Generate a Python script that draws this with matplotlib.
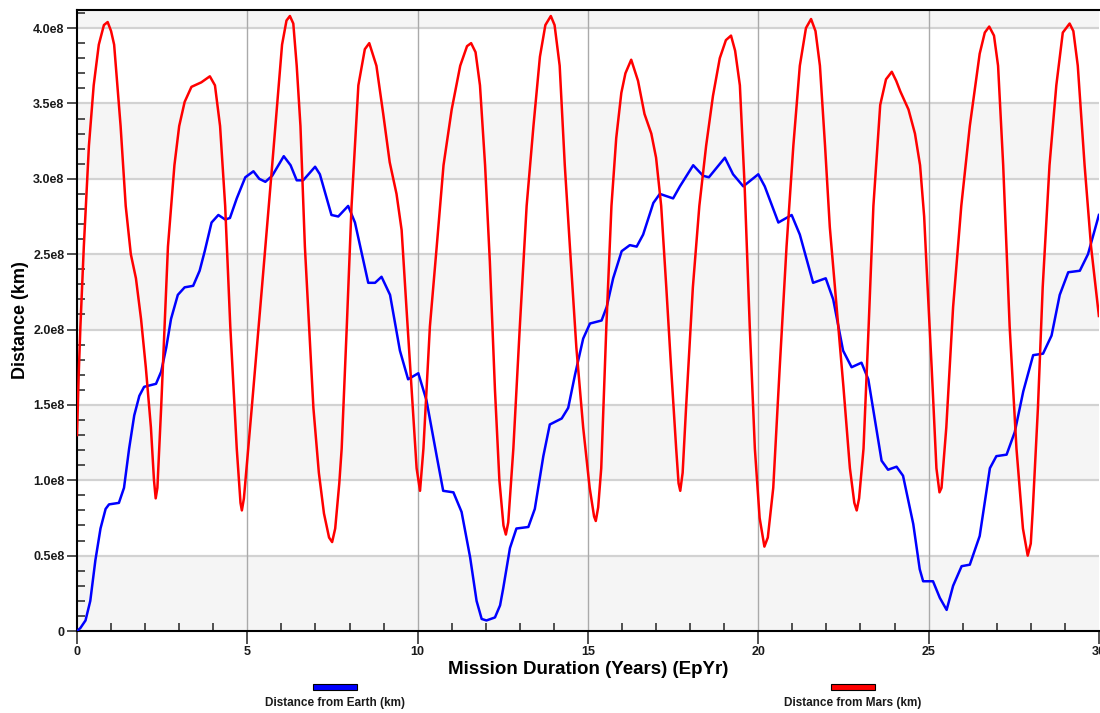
import matplotlib
matplotlib.use("Agg")
import matplotlib.pyplot as plt
import numpy as np
from matplotlib.ticker import MultipleLocator, FuncFormatter
from matplotlib.patches import Rectangle

plt.rcParams['font.family'] = ['Liberation Sans', 'DejaVu Sans']
plt.rcParams['font.weight'] = 'bold'

# mission time (years) and distance (units of 1e8 km)
earth_t = [0, 0.1, 0.25, 0.39, 0.54, 0.69, 0.84, 0.94, 1.23, 1.38, 1.53, 1.68, 1.83, 1.97,
           2.32, 2.47, 2.62, 2.76, 2.96, 3.16, 3.41, 3.60, 3.75, 3.95, 4.15, 4.35, 4.49, 4.69,
           4.94, 5.18, 5.35, 5.53, 5.73, 6.07, 6.27, 6.45, 6.64, 6.99, 7.13, 7.47, 7.67, 7.96,
           8.16, 8.55, 8.75, 8.94, 9.19, 9.48, 9.72, 10.02, 10.26, 10.56, 10.75, 11.05, 11.29,
           11.54, 11.73, 11.88, 12.02, 12.27, 12.42, 12.51, 12.71, 12.90, 13.25, 13.44, 13.69,
           13.88, 14.23, 14.42, 14.62, 14.86, 15.06, 15.40, 15.55, 15.74, 15.99, 16.23, 16.43,
           16.62, 16.92, 17.11, 17.50, 17.70, 18.09, 18.38, 18.55, 19.02, 19.26, 19.56, 20.00,
           20.19, 20.59, 20.98, 21.22, 21.61, 21.98, 22.20, 22.49, 22.74, 23.03, 23.23, 23.62,
           23.81, 24.06, 24.25, 24.55, 24.74, 24.84, 25.13, 25.33, 25.53, 25.72, 25.97, 26.21,
           26.50, 26.80, 26.99, 27.29, 27.53, 27.78, 28.07, 28.36, 28.61, 28.85, 29.10, 29.44,
           29.68, 30.00]
earth_d = [0, 0.02, 0.07, 0.2, 0.47, 0.68, 0.81, 0.84, 0.85, 0.95, 1.21, 1.43, 1.56, 1.62,
           1.64, 1.72, 1.88, 2.07, 2.23, 2.28, 2.29, 2.39, 2.52, 2.71, 2.76, 2.73, 2.74, 2.87,
           3.01, 3.05, 3.00, 2.98, 3.02, 3.15, 3.09, 2.99, 2.99, 3.08, 3.03, 2.76, 2.75, 2.82,
           2.71, 2.31, 2.31, 2.35, 2.23, 1.86, 1.67, 1.71, 1.53, 1.16, 0.93, 0.92, 0.79,
           0.49, 0.20, 0.08, 0.07, 0.09, 0.17, 0.28, 0.55, 0.68, 0.69, 0.81, 1.16,
           1.37, 1.41, 1.48, 1.70, 1.94, 2.04, 2.06, 2.15, 2.34, 2.52, 2.56, 2.55,
           2.63, 2.84, 2.90, 2.87, 2.95, 3.09, 3.02, 3.01, 3.14, 3.03, 2.95, 3.03,
           2.95, 2.71, 2.76, 2.63, 2.31, 2.34, 2.20, 1.86, 1.75, 1.78, 1.67, 1.13,
           1.07, 1.09, 1.03, 0.71, 0.41, 0.33, 0.33, 0.22, 0.14, 0.30, 0.43, 0.44,
           0.63, 1.08, 1.16, 1.17, 1.32, 1.59, 1.83, 1.84, 1.96, 2.23, 2.38, 2.39,
           2.50, 2.76]

mars_t = [0.0, 0.05, 0.10, 0.20, 0.35, 0.49, 0.64, 0.79, 0.90, 1.00, 1.09, 1.28, 1.43, 1.58,
          1.73, 1.88, 2.02, 2.17, 2.26, 2.31, 2.36, 2.47, 2.67, 2.86, 3.00, 3.16, 3.36, 3.65,
          3.90, 4.05, 4.20, 4.35, 4.50, 4.69, 4.80, 4.84, 4.90, 5.13, 5.43, 5.73, 6.02, 6.15,
          6.25, 6.35, 6.45, 6.56, 6.69, 6.82, 6.94, 7.10, 7.25, 7.40, 7.49, 7.58, 7.70, 7.77,
          7.92, 8.06, 8.26, 8.45, 8.58, 8.79, 8.99, 9.18, 9.38, 9.53, 9.67, 9.82, 9.97, 10.07,
          10.17, 10.36, 10.56, 10.76, 11.00, 11.25, 11.45, 11.57, 11.70, 11.83, 11.98, 12.12,
          12.27, 12.40, 12.52, 12.59, 12.66, 12.81, 13.00, 13.20, 13.40, 13.59, 13.75, 13.91,
          14.02, 14.17, 14.32, 14.47, 14.66, 14.86, 15.05, 15.18, 15.23, 15.30, 15.39, 15.54,
          15.69, 15.83, 15.98, 16.10, 16.27, 16.47, 16.66, 16.86, 17.00, 17.15, 17.30, 17.44,
          17.59, 17.66, 17.71, 17.78, 17.88, 18.08, 18.27, 18.47, 18.67, 18.87, 19.05, 19.20,
          19.32, 19.46, 19.60, 19.75, 19.90, 20.04, 20.18, 20.28, 20.44, 20.63, 20.83, 21.03,
          21.22, 21.40, 21.55, 21.68, 21.81, 21.96, 22.10, 22.30, 22.50, 22.69, 22.82, 22.89,
          22.96, 23.09, 23.24, 23.38, 23.58, 23.75, 23.92, 24.05, 24.17, 24.41, 24.60, 24.75,
          24.87, 24.94, 25.09, 25.23, 25.32, 25.38, 25.52, 25.72, 25.96, 26.21, 26.50, 26.65,
          26.78, 26.92, 27.04, 27.19, 27.38, 27.58, 27.77, 27.91, 28.00, 28.06, 28.21, 28.35,
          28.55, 28.75, 28.94, 29.14, 29.25, 29.38, 29.58, 29.77, 30.00]
mars_d = [1.30, 1.70, 2.02, 2.55, 3.22, 3.62, 3.89, 4.02, 4.04, 3.98, 3.89, 3.35, 2.82, 2.50,
          2.34, 2.07, 1.75, 1.35, 1.00, 0.88, 0.95, 1.48, 2.55, 3.09, 3.35, 3.51, 3.61, 3.64,
          3.68, 3.62, 3.35, 2.82, 2.02, 1.21, 0.85, 0.80, 0.88, 1.48, 2.28, 3.09, 3.89, 4.05,
          4.08, 4.03, 3.75, 3.35, 2.55, 2.00, 1.48, 1.05, 0.78, 0.62, 0.59, 0.68, 0.98, 1.21,
          2.02, 2.82, 3.62, 3.86, 3.90, 3.75, 3.43, 3.11, 2.90, 2.66, 2.15, 1.62, 1.08, 0.93,
          1.21, 2.02, 2.55, 3.09, 3.46, 3.75, 3.88, 3.90, 3.84, 3.62, 3.09, 2.45,
          1.60, 1.00, 0.70, 0.64, 0.72, 1.21, 2.02, 2.82, 3.35, 3.81, 4.02, 4.08,
          4.02, 3.75, 3.09, 2.55, 1.88, 1.35, 0.95, 0.76, 0.73, 0.82, 1.08, 2.02,
          2.82, 3.27, 3.57, 3.70, 3.79, 3.65, 3.43, 3.30, 3.14, 2.82, 2.28, 1.75,
          1.21, 0.98, 0.93, 1.05, 1.48, 2.28, 2.82, 3.22, 3.55, 3.80, 3.92, 3.95,
          3.85, 3.62, 2.95, 2.02, 1.21, 0.75, 0.56, 0.62, 0.95, 1.75, 2.55, 3.22,
          3.75, 4.00, 4.06, 3.98, 3.75, 3.22, 2.68, 2.15, 1.62, 1.08, 0.85, 0.80,
          0.88, 1.21, 2.02, 2.82, 3.49, 3.66, 3.71, 3.65, 3.58, 3.46, 3.30, 3.09,
          2.75, 2.42, 1.75, 1.08, 0.92, 0.95, 1.35, 2.15, 2.82, 3.35, 3.83, 3.97,
          4.01, 3.95, 3.75, 3.09, 2.02, 1.21, 0.68, 0.50, 0.58, 0.81, 1.48, 2.28,
          3.09, 3.62, 3.97, 4.03, 3.98, 3.75, 3.09, 2.55, 2.09]

scale = 1e8
earth_km = np.array(earth_d) * scale
mars_km = np.array(mars_d) * scale

fig = plt.figure(figsize=(11, 7.13), dpi=100)
ax = fig.add_axes([0.07, 0.115, 0.929, 0.871])

ymax = 4.12e8
ax.set_xlim(0, 30)
ax.set_ylim(0, ymax)

# alternating background bands
for lo in np.arange(0, 4.5e8, 1e8):
    ax.axhspan(lo, min(lo + 0.5e8, ymax), color='#f5f5f5', lw=0, zorder=0)

for v in np.arange(0.5e8, 4.01e8, 0.5e8):
    ax.axhline(v, color='#d2d2d2', lw=1.6, zorder=1)
for v in range(5, 30, 5):
    ax.axvline(v, color='#aaaaaa', lw=1.0, zorder=1)

ax.plot(earth_t, earth_km, color='#0000ff', lw=1.8, zorder=3, solid_joinstyle='round')
ax.plot(mars_t, mars_km, color='#ff0000', lw=1.8, zorder=4, solid_joinstyle='round')

ax.xaxis.set_major_locator(MultipleLocator(5))
ax.xaxis.set_minor_locator(MultipleLocator(1))
ax.yaxis.set_major_locator(MultipleLocator(0.5e8))
ax.yaxis.set_minor_locator(MultipleLocator(0.1e8))
ax.yaxis.set_major_formatter(FuncFormatter(lambda v, p: "0" if v == 0 else f"{v / 1e8:.1f}e8"))

ax.tick_params(which='major', direction='out', length=7, width=1.2, color='#333333',
               labelsize=9, labelcolor='#1a1a1a', pad=2)
ax.tick_params(which='minor', direction='in', length=6, width=1.2, color='#333333')
ax.tick_params(axis='x', which='major', length=9)

for s in ['left', 'bottom', 'top']:
    ax.spines[s].set_linewidth(1.5)
    ax.spines[s].set_color('black')
ax.spines['right'].set_visible(False)

ax.set_xlabel('Mission Duration (Years) (EpYr)', fontsize=13.5, fontweight='bold', labelpad=2)
ax.set_ylabel('Distance (km)', fontsize=13, fontweight='bold', labelpad=3)

# legend below the plot
for x0, c, name in [(0.2845, '#0000ff', 'Distance from Earth (km)'),
                    (0.7555, '#ff0000', 'Distance from Mars (km)')]:
    fig.patches.append(Rectangle((x0, 0.0325), 0.04, 0.0075, transform=fig.transFigure,
                                 facecolor=c, edgecolor='black', lw=0.8))
    fig.text(x0 + 0.02, 0.0135, name, ha='center', va='center', fontsize=8.5, fontweight='bold',
             color='#1a1a1a')

fig.savefig('out.png', dpi=100)
